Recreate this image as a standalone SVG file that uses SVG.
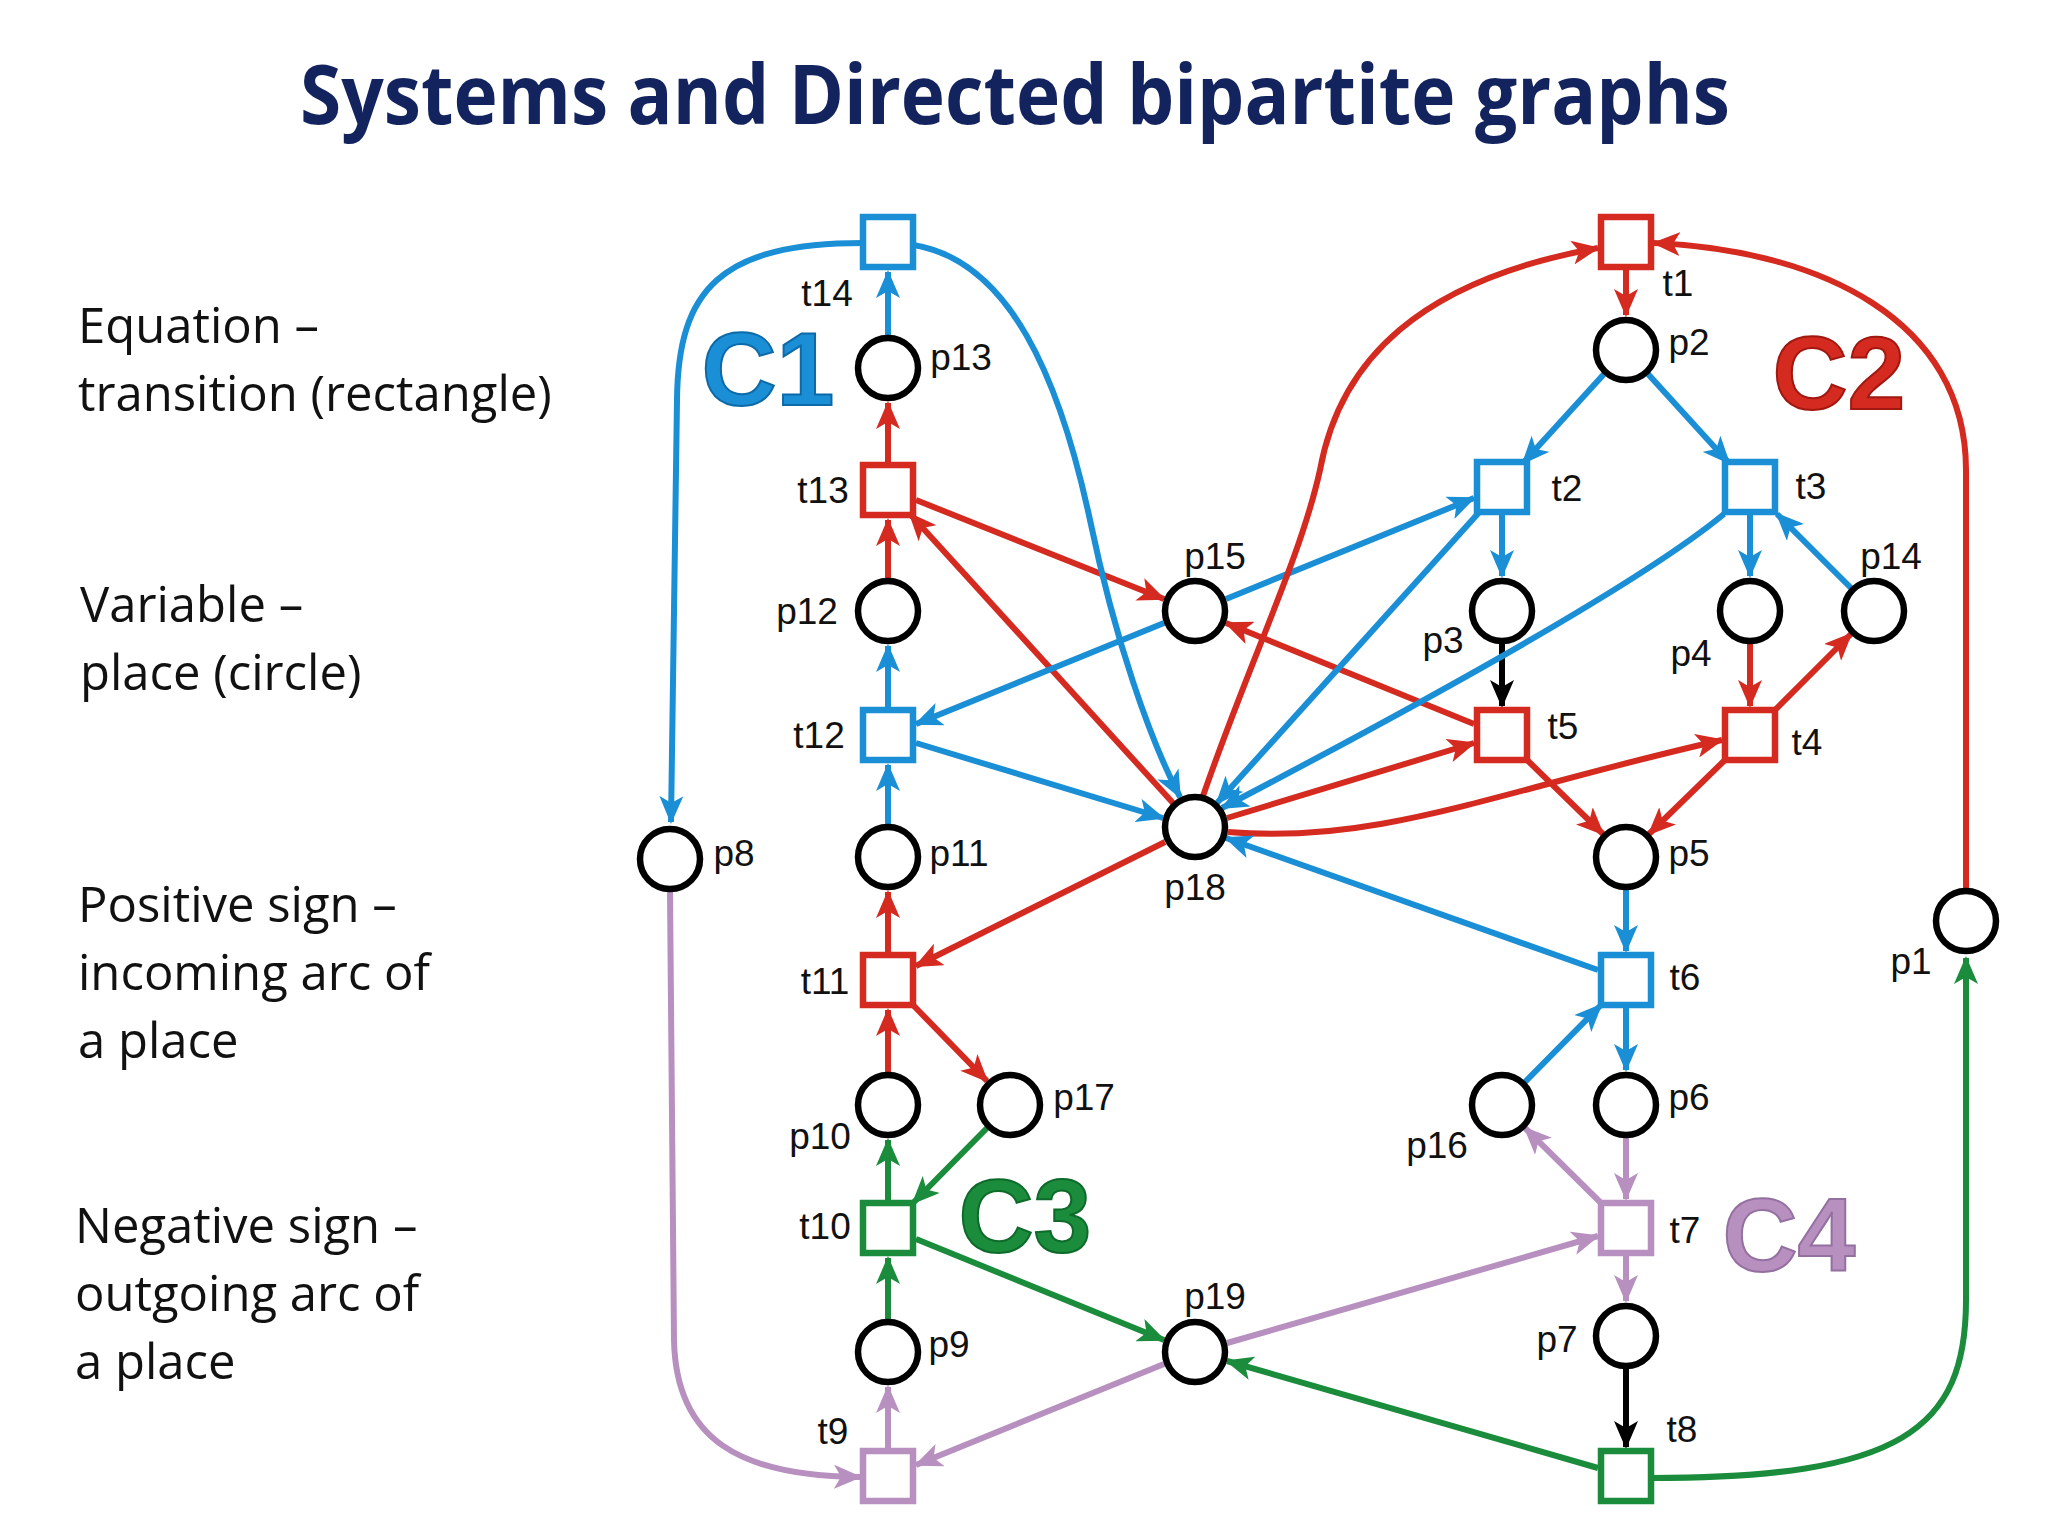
<svg xmlns="http://www.w3.org/2000/svg" width="2048" height="1536" viewBox="0 0 2048 1536">
<style>
.t{font-family:"Open Sans","Liberation Sans",sans-serif;font-size:49px;fill:#111}
.l{font-family:"Liberation Sans",Arial,sans-serif;font-size:37px;fill:#111;text-anchor:middle;dominant-baseline:central}
.P{fill:#fff;stroke:#000;stroke-width:6.5}
.sq{fill:#fff;stroke-width:6.5}
.b{stroke:#1a8fd6}.r{stroke:#d42a20}.g{stroke:#1a8c3c}.v{stroke:#b890c0}.k{stroke:#000}
.e{fill:none;stroke-width:6}
.eb{marker-end:url(#mb)}.er{marker-end:url(#mr)}.eg{marker-end:url(#mg)}.ev{marker-end:url(#mv)}.ek{marker-end:url(#mk)}
.C{font-family:"Liberation Sans",Arial,sans-serif;font-weight:bold;font-size:104px;stroke-width:2;text-anchor:middle}
</style>
<defs>
<marker id="mb" markerUnits="userSpaceOnUse" markerWidth="28" markerHeight="24" refX="26" refY="12" orient="auto"><path d="M0,0 L28,12 L0,24 L7,12 z" fill="#1a8fd6"/></marker>
<marker id="mr" markerUnits="userSpaceOnUse" markerWidth="28" markerHeight="24" refX="26" refY="12" orient="auto"><path d="M0,0 L28,12 L0,24 L7,12 z" fill="#d42a20"/></marker>
<marker id="mg" markerUnits="userSpaceOnUse" markerWidth="28" markerHeight="24" refX="26" refY="12" orient="auto"><path d="M0,0 L28,12 L0,24 L7,12 z" fill="#1a8c3c"/></marker>
<marker id="mv" markerUnits="userSpaceOnUse" markerWidth="28" markerHeight="24" refX="26" refY="12" orient="auto"><path d="M0,0 L28,12 L0,24 L7,12 z" fill="#b890c0"/></marker>
<marker id="mk" markerUnits="userSpaceOnUse" markerWidth="28" markerHeight="24" refX="26" refY="12" orient="auto"><path d="M0,0 L28,12 L0,24 L7,12 z" fill="#000"/></marker>
</defs>
<rect width="2048" height="1536" fill="#fff"/>
<text x="1015" y="124" text-anchor="middle" font-family="'Open Sans','Liberation Sans',sans-serif" font-weight="bold" font-size="82" fill="#13235e" textLength="1430" lengthAdjust="spacingAndGlyphs">Systems and Directed bipartite graphs</text>
<g id="legend">
<text class="t" x="78" y="343">Equation –</text>
<text class="t" x="78" y="411">transition (rectangle)</text>
<text class="t" x="80" y="622">Variable –</text>
<text class="t" x="80" y="690">place (circle)</text>
<text class="t" x="78" y="922">Positive sign –</text>
<text class="t" x="78" y="990">incoming arc of</text>
<text class="t" x="78" y="1058">a place</text>
<text class="t" x="75" y="1243">Negative sign –</text>
<text class="t" x="75" y="1311">outgoing arc of</text>
<text class="t" x="75" y="1379">a place</text>
</g>
<g id="connectors">
<path class="e b eb" d="M888,335 L888,272"/>
<path class="e r er" d="M888,465 L888,403"/>
<path class="e r er" d="M888,578 L888,520"/>
<path class="e b eb" d="M888,710 L888,646"/>
<path class="e b eb" d="M888,824 L888,765"/>
<path class="e r er" d="M888,955 L888,892"/>
<path class="e r er" d="M888,1072 L888,1010"/>
<path class="e g eg" d="M888,1203 L888,1140"/>
<path class="e g eg" d="M888,1319 L888,1258"/>
<path class="e v ev" d="M888,1451 L888,1387"/>
<path class="e r er" d="M1626,267 L1626,315"/>
<path class="e b eb" d="M1502,512 L1502,576"/>
<path class="e b eb" d="M1750,512 L1750,576"/>
<path class="e k ek" d="M1502,644 L1502,706"/>
<path class="e r er" d="M1750,644 L1750,706"/>
<path class="e b eb" d="M1626,890 L1626,951"/>
<path class="e b eb" d="M1626,1005 L1626,1070"/>
<path class="e v ev" d="M1626,1138 L1626,1199"/>
<path class="e v ev" d="M1626,1253 L1626,1301"/>
<path class="e k ek" d="M1626,1369 L1626,1447"/>
<path class="e b eb" d="M1604,374 L1523,463"/>
<path class="e b eb" d="M1648,374 L1729,463"/>
<path class="e b eb" d="M1851,588 L1777,514"/>
<path class="e r er" d="M1775,710 L1851,634"/>
<path class="e r er" d="M1525,758 L1603,834"/>
<path class="e r er" d="M1727,758 L1649,834"/>
<path class="e b eb" d="M1525,1082 L1601,1005"/>
<path class="e v ev" d="M1601,1203 L1525,1128"/>
<path class="e r er" d="M913,1005 L987,1081"/>
<path class="e g eg" d="M987,1128 L913,1203"/>
<path class="e r er" d="M916,500 L1164,599"/>
<path class="e r er" d="M1173,803 L910,514"/>
<path class="e b eb" d="M1164,623 L916,724"/>
<path class="e b eb" d="M1226,599 L1474,498"/>
<path class="e b eb" d="M916,743 L1163,818"/>
<path class="e r er" d="M1474,724 L1226,623"/>
<path class="e r er" d="M1227,818 L1474,743"/>
<path class="e r er" d="M1228,832 C1380,845 1500,790 1722,740"/>
<path class="e b eb" d="M1483,508 L1217,803"/>
<path class="e b eb" d="M1724,514 Q1620,600 1222,808"/>
<path class="e b eb" d="M1598,970 L1226,838"/>
<path class="e r er" d="M1165,842 L916,966"/>
<path class="e g eg" d="M916,1239 L1164,1340"/>
<path class="e g eg" d="M1598,1468 L1227,1361"/>
<path class="e v ev" d="M1164,1364 L916,1465"/>
<path class="e v ev" d="M1227,1343 L1598,1236"/>
<path class="e b eb" d="M863,243 C720,243 678,290 677,400 L671,822"/>
<path class="e b eb" d="M913,245 C1010,260 1060,380 1090,520 C1115,640 1150,740 1180,797"/>
<path class="e r er" d="M1203,796 C1250,660 1300,560 1320,470 C1340,360 1420,280 1598,248"/>
<path class="e r er" d="M1966,888 L1966,470 C1966,320 1820,250 1654,243"/>
<path class="e g eg" d="M1651,1478 C1900,1478 1966,1430 1966,1300 L1966,958"/>
<path class="e v ev" d="M670,892 L674,1340 C676,1440 740,1476 860,1477"/>
</g>
<g id="t14"><rect class="sq b" x="863" y="217" width="50" height="50"/><text class="l" x="827" y="293">t14</text></g>
<g id="p13"><circle class="P" cx="888" cy="368" r="30"/><text class="l" x="961" y="357">p13</text></g>
<g id="t13"><rect class="sq r" x="863" y="465" width="50" height="50"/><text class="l" x="823" y="490">t13</text></g>
<g id="p12"><circle class="P" cx="888" cy="611" r="30"/><text class="l" x="807" y="611">p12</text></g>
<g id="t12"><rect class="sq b" x="863" y="710" width="50" height="50"/><text class="l" x="819" y="735">t12</text></g>
<g id="p11"><circle class="P" cx="888" cy="857" r="30"/><text class="l" x="959" y="853">p11</text></g>
<g id="t11"><rect class="sq r" x="863" y="955" width="50" height="50"/><text class="l" x="825" y="981">t11</text></g>
<g id="p10"><circle class="P" cx="888" cy="1105" r="30"/><text class="l" x="820" y="1136">p10</text></g>
<g id="p17"><circle class="P" cx="1010" cy="1105" r="30"/><text class="l" x="1084" y="1097">p17</text></g>
<g id="t10"><rect class="sq g" x="863" y="1203" width="50" height="50"/><text class="l" x="825" y="1226">t10</text></g>
<g id="p9"><circle class="P" cx="888" cy="1352" r="30"/><text class="l" x="949" y="1344">p9</text></g>
<g id="t9"><rect class="sq v" x="863" y="1451" width="50" height="50"/><text class="l" x="833" y="1431">t9</text></g>
<g id="p8"><circle class="P" cx="670" cy="859" r="30"/><text class="l" x="734" y="853">p8</text></g>
<g id="p15"><circle class="P" cx="1195" cy="611" r="30"/><text class="l" x="1215" y="556">p15</text></g>
<g id="p18"><circle class="P" cx="1195" cy="827" r="30"/><text class="l" x="1195" y="887">p18</text></g>
<g id="p19"><circle class="P" cx="1195" cy="1352" r="30"/><text class="l" x="1215" y="1296">p19</text></g>
<g id="t1"><rect class="sq r" x="1601" y="217" width="50" height="50"/><text class="l" x="1678" y="283">t1</text></g>
<g id="p2"><circle class="P" cx="1626" cy="350" r="30"/><text class="l" x="1689" y="342">p2</text></g>
<g id="t2"><rect class="sq b" x="1477" y="462" width="50" height="50"/><text class="l" x="1567" y="488">t2</text></g>
<g id="t3"><rect class="sq b" x="1725" y="462" width="50" height="50"/><text class="l" x="1811" y="486">t3</text></g>
<g id="p3"><circle class="P" cx="1502" cy="611" r="30"/><text class="l" x="1443" y="640">p3</text></g>
<g id="p4"><circle class="P" cx="1750" cy="611" r="30"/><text class="l" x="1691" y="653">p4</text></g>
<g id="p14"><circle class="P" cx="1874" cy="611" r="30"/><text class="l" x="1891" y="556">p14</text></g>
<g id="t5"><rect class="sq r" x="1477" y="710" width="50" height="50"/><text class="l" x="1563" y="726">t5</text></g>
<g id="t4"><rect class="sq r" x="1725" y="710" width="50" height="50"/><text class="l" x="1807" y="742">t4</text></g>
<g id="p5"><circle class="P" cx="1626" cy="857" r="30"/><text class="l" x="1689" y="853">p5</text></g>
<g id="t6"><rect class="sq b" x="1601" y="955" width="50" height="50"/><text class="l" x="1685" y="977">t6</text></g>
<g id="p16"><circle class="P" cx="1502" cy="1105" r="30"/><text class="l" x="1437" y="1145">p16</text></g>
<g id="p6"><circle class="P" cx="1626" cy="1105" r="30"/><text class="l" x="1689" y="1097">p6</text></g>
<g id="t7"><rect class="sq v" x="1601" y="1203" width="50" height="50"/><text class="l" x="1685" y="1230">t7</text></g>
<g id="p7"><circle class="P" cx="1626" cy="1336" r="30"/><text class="l" x="1557" y="1339">p7</text></g>
<g id="t8"><rect class="sq g" x="1601" y="1451" width="50" height="50"/><text class="l" x="1682" y="1429">t8</text></g>
<g id="p1"><circle class="P" cx="1966" cy="921" r="30"/><text class="l" x="1911" y="961">p1</text></g>
<g id="labels">
<text class="C" x="768" y="405" fill="#1a8fd6" stroke="#0d6aa8">C1</text>
<text class="C" x="1839" y="409" fill="#d42a20" stroke="#a01810">C2</text>
<text class="C" x="1025" y="1252" fill="#1a8c3c" stroke="#0e6a2a">C3</text>
<text class="C" x="1789" y="1271" fill="#b890c0" stroke="#9470a0">C4</text>
</g>
</svg>
